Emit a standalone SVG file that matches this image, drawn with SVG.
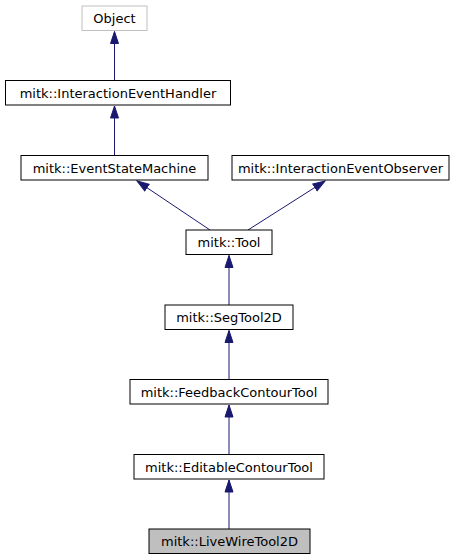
<svg xmlns="http://www.w3.org/2000/svg" width="464" height="560" viewBox="0 0 464 560">
<style>
.n rect{fill:#ffffff;stroke:#000000;stroke-width:1}
.n text{font-family:"DejaVu Sans",sans-serif;font-size:13px;fill:#000000;text-anchor:middle}
#object rect{stroke:#bfbfbf}
#livewire rect{fill:#bfbfbf}
.e line{stroke:#191970;stroke-width:1;fill:none;marker-end:url(#arr)}
</style>
<defs>
<marker id="arr" markerUnits="userSpaceOnUse" markerWidth="14" markerHeight="11" refX="12.5" refY="5.5" orient="auto">
<path d="M0.5,1.5 L12.5,5.5 L0.5,9.5 z" fill="#191970" stroke="#191970" stroke-width="1"/>
</marker>
</defs>
<rect width="464" height="560" fill="#ffffff"/>
<g class="e" id="edges">
<line x1="114.5" y1="80.5" x2="114.5" y2="31.5"/>
<line x1="114.5" y1="155.5" x2="114.5" y2="106"/>
<line x1="210" y1="230" x2="137" y2="181"/>
<line x1="248" y1="230" x2="325" y2="181"/>
<line x1="229" y1="305" x2="229" y2="255.5"/>
<line x1="229" y1="379.5" x2="229" y2="330.5"/>
<line x1="229" y1="454.5" x2="229" y2="405"/>
<line x1="229" y1="529" x2="229" y2="480"/>
</g>
<g class="n" id="object"><rect x="82" y="6" width="65" height="24.5"/><text x="114.5" y="23">Object</text></g>
<g class="n" id="ieh"><rect x="5.5" y="80.5" width="225" height="24.5"/><text x="118" y="97.5">mitk::InteractionEventHandler</text></g>
<g class="n" id="esm"><rect x="21" y="155.5" width="187" height="24.5"/><text x="114.5" y="172.5">mitk::EventStateMachine</text></g>
<g class="n" id="ieo"><rect x="232" y="155.5" width="217" height="24.5"/><text x="340.5" y="172.5">mitk::InteractionEventObserver</text></g>
<g class="n" id="tool"><rect x="186" y="230" width="86" height="24.5"/><text x="229" y="247">mitk::Tool</text></g>
<g class="n" id="segtool"><rect x="165" y="305" width="128" height="24.5"/><text x="229" y="322">mitk::SegTool2D</text></g>
<g class="n" id="feedback"><rect x="130" y="379.5" width="198" height="24.5"/><text x="229" y="396.5">mitk::FeedbackContourTool</text></g>
<g class="n" id="editable"><rect x="134" y="454.5" width="190" height="24.5"/><text x="229" y="471.5">mitk::EditableContourTool</text></g>
<g class="n" id="livewire"><rect x="149" y="529" width="161" height="24.5"/><text x="229.5" y="546">mitk::LiveWireTool2D</text></g>
</svg>
